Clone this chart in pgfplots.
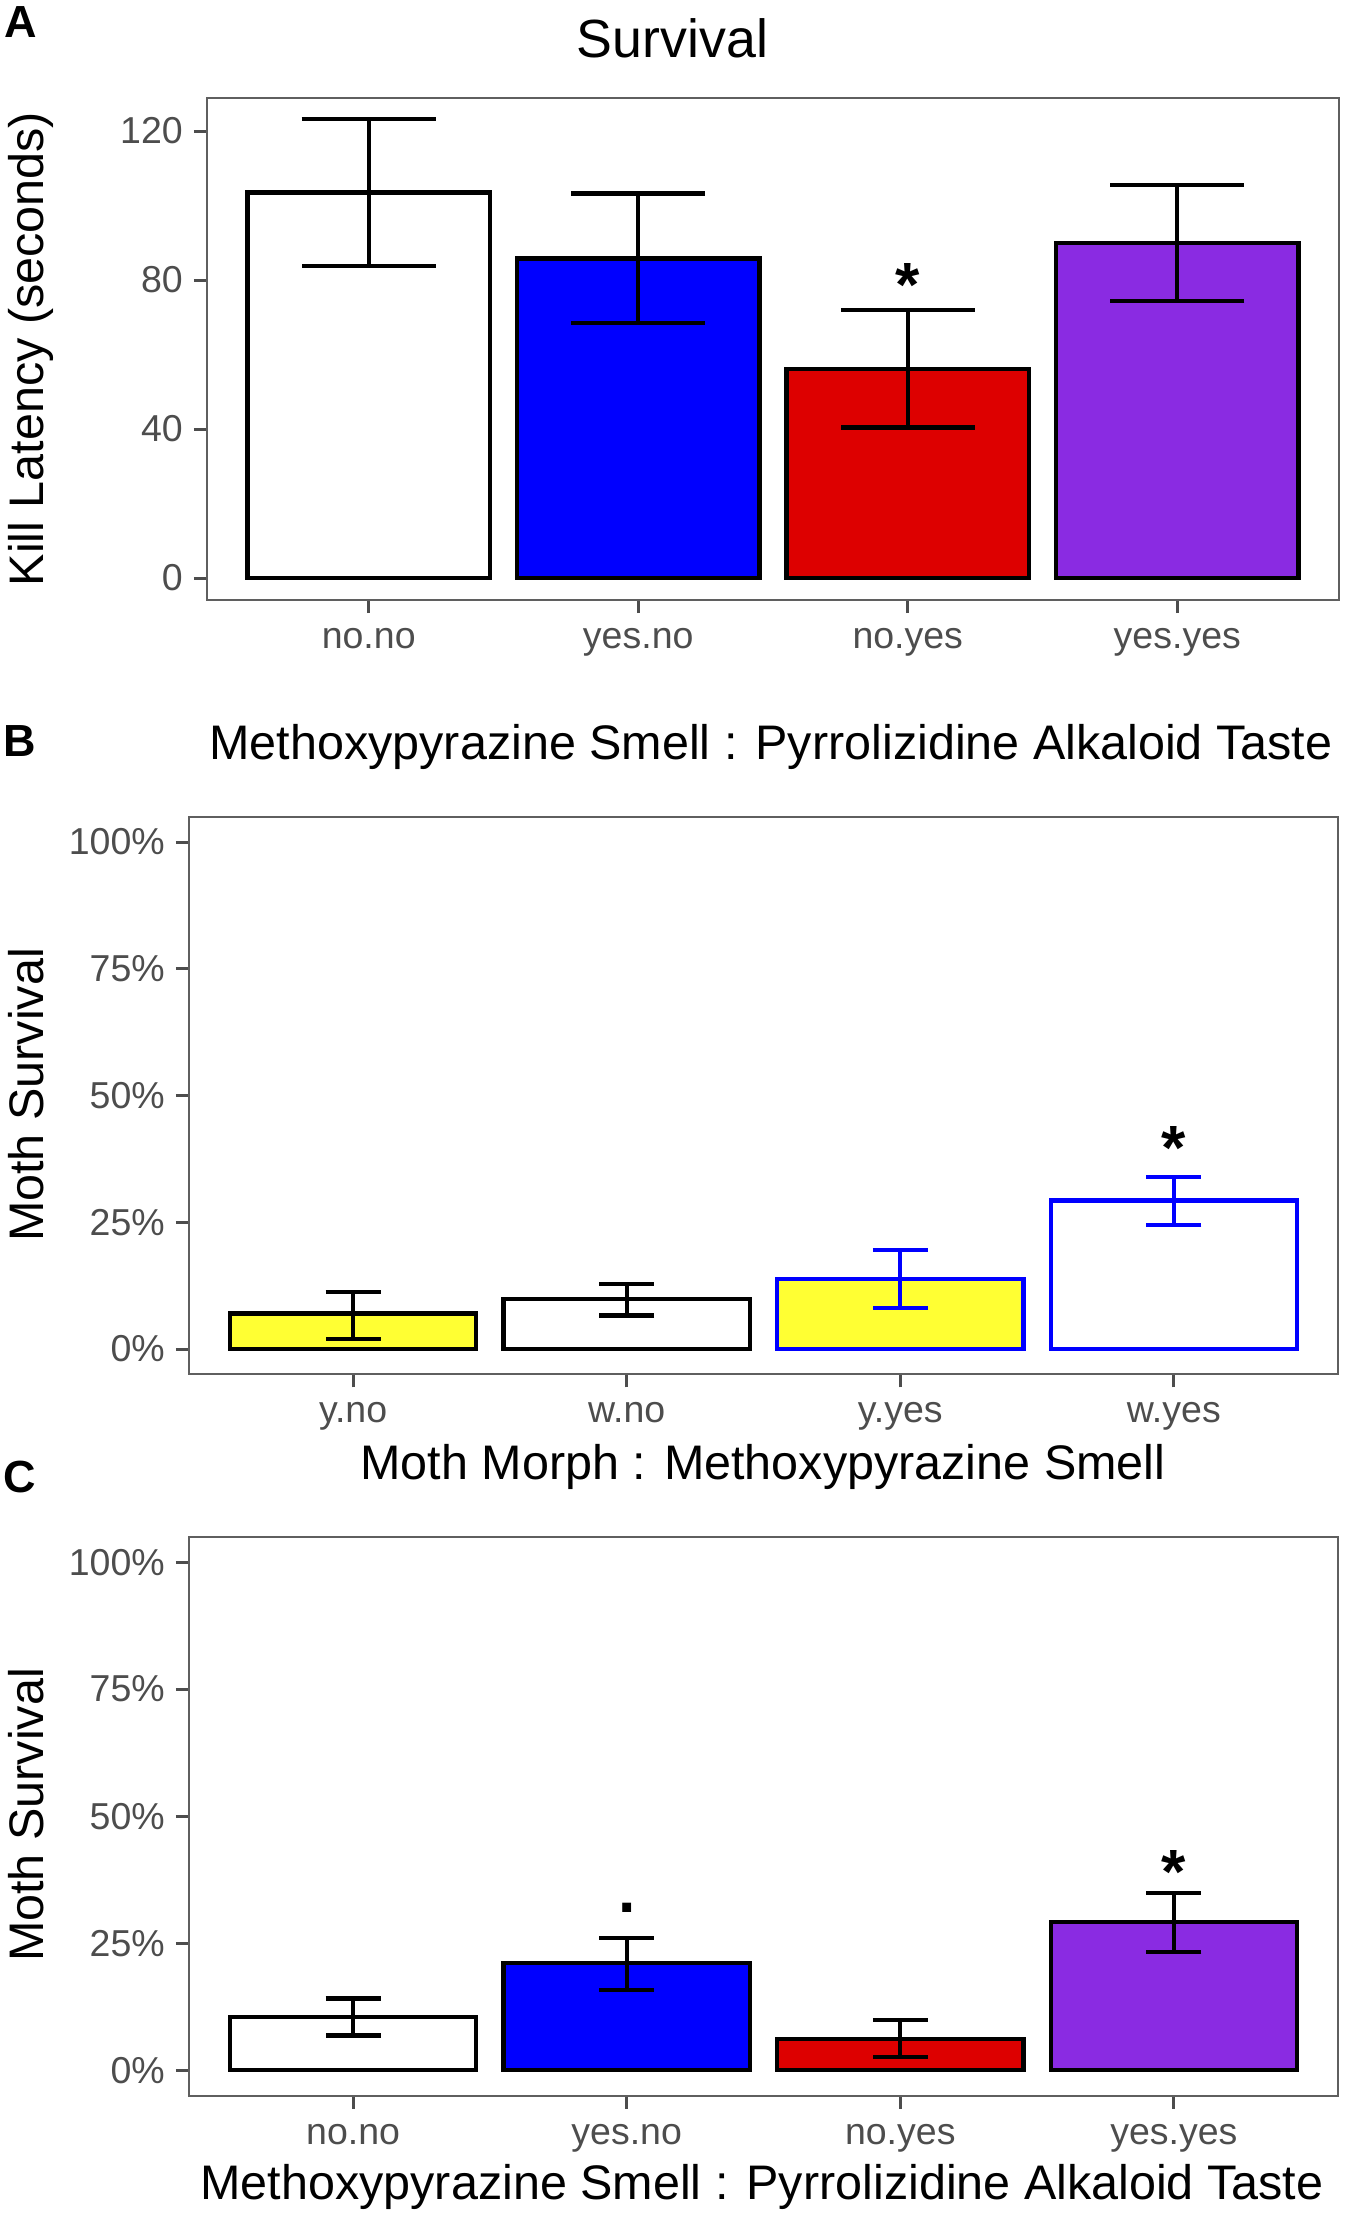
\documentclass[border=0pt]{standalone}
\usepackage{pgfplots}
\pgfplotsset{compat=1.18}
\usepackage{fontspec}
\setmainfont{Liberation Sans}
\definecolor{tickgray}{RGB}{77,77,77}
\definecolor{bordergray}{RGB}{95,95,95}
\definecolor{myred}{RGB}{221,0,0}
\definecolor{mypurple}{RGB}{138,43,226}
\definecolor{myblue}{RGB}{0,0,255}
\definecolor{myyellow}{RGB}{255,255,51}
\newcommand\ticksize{\fontsize{15}{17}\selectfont}
\newcommand\titlesize{\fontsize{19.4}{23}\selectfont}
\newcommand\bigtitlesize{\fontsize{21.5}{25}\selectfont}
\newcommand\panelsize{\fontsize{18}{21}\selectfont\bfseries}
\newcommand\starsize{\fontsize{25}{28}\selectfont\bfseries}
\pgfplotsset{
  panel/.style={
    scale only axis, clip=false,
    axis line style={bordergray, line width=0.8pt},
    xmin=0.4, xmax=4.6, xtick={1,2,3,4},
    xtick pos=left, ytick pos=left,
    tick align=outside, major tick length=5.2pt,
    tick style={color=tickgray, line width=1.2pt},
    tick label style={font=\ticksize, text=tickgray, inner sep=0pt},
    xticklabel style={anchor=base, yshift=-14.2pt},
    yticklabel style={anchor=east, xshift=-4.3pt},
  },
  bar/.style={ybar, bar width=0.9, bar shift=0pt, line width=1.7pt, draw=#1},
  bar/.default=black,
  errA/.style={error bars/.cd, y dir=both, y explicit, error mark=|,
    error bar style={line width=1.7pt, color=#1},
    error mark options={line width=1.7pt, color=#1, mark size=26.8pt}},
  errA/.default=black,
  errB/.style={error bars/.cd, y dir=both, y explicit, error mark=|,
    error bar style={line width=1.7pt, color=#1},
    error mark options={line width=1.7pt, color=#1, mark size=11pt}},
  errB/.default=black,
}
\begin{document}
\begin{tikzpicture}
\path[use as bounding box] (0,0) rectangle (540pt,-887.2pt);

% Panel labels and titles
\node[anchor=base west, font=\panelsize, inner sep=0pt] at (1.6pt,-14.8pt) {A};
\node[anchor=base west, font=\panelsize, inner sep=0pt] at (1.2pt,-302.4pt) {B};
\node[anchor=base west, font=\panelsize, inner sep=0pt] at (1.2pt,-596.8pt) {C};
\node[anchor=base, font=\bigtitlesize, inner sep=0pt] at (269pt,-23pt) {Survival};
\node[anchor=base, font=\titlesize, inner sep=0pt] at (308.4pt,-303.6pt) {Methoxypyrazine Smell : Pyrrolizidine Alkaloid Taste};
\node[anchor=base, font=\titlesize, inner sep=0pt] at (305.2pt,-591.6pt) {Moth Morph : Methoxypyrazine Smell};
\node[anchor=base, font=\titlesize, inner sep=0pt] at (304.8pt,-879.6pt) {Methoxypyrazine Smell : Pyrrolizidine Alkaloid Taste};
\node[anchor=base, rotate=90, font=\titlesize, inner sep=0pt] at (17.6pt,-139.6pt) {Kill Latency (seconds)};
\node[anchor=base, rotate=90, font=\titlesize, inner sep=0pt] at (17.6pt,-438pt) {Moth Survival};
\node[anchor=base, rotate=90, font=\titlesize, inner sep=0pt] at (17.6pt,-726pt) {Moth Survival};

% Panel A
\begin{axis}[panel, at={(82.8pt,-240pt)}, anchor=south west,
  width=452.8pt, height=201pt, ymin=-5.9, ymax=129,
  ytick={0,40,80,120}, yticklabels={0,40,80,120},
  xticklabels={no.no,yes.no,no.yes,yes.yes}]
\addplot[bar, fill=white, errA] coordinates {(1,103.5) +- (0,19.8)};
\addplot[bar, fill=myblue, errA] coordinates {(2,85.8) +- (0,17.4)};
\addplot[bar, fill=myred, errA] coordinates {(3,56.2) +- (0,15.8)};
\addplot[bar, fill=mypurple, errA] coordinates {(4,90.0) +- (0,15.6)};
\node[anchor=base, font=\starsize, inner sep=0pt] at (axis cs:3,73) {*};
\end{axis}

% Panel B
\begin{axis}[panel, at={(75.6pt,-549.76pt)}, anchor=south west,
  width=459.6pt, height=223.1pt, ymin=-5, ymax=105,
  ytick={0,25,50,75,100}, yticklabels={0\%,25\%,50\%,75\%,100\%},
  xticklabels={y.no,w.no,y.yes,w.yes}]
\addplot[bar, fill=myyellow, errB] coordinates {(1,7.0) += (0,4.2) -= (0,5.0)};
\addplot[bar, fill=white, errB] coordinates {(2,9.9) += (0,3.0) -= (0,3.3)};
\addplot[bar=myblue, fill=myyellow, errB=myblue] coordinates {(3,13.8) += (0,5.8) -= (0,5.7)};
\addplot[bar=myblue, fill=white, errB=myblue] coordinates {(4,29.3) += (0,4.7) -= (0,4.9)};
\node[anchor=base, font=\starsize, inner sep=0pt] at (axis cs:4,35.5) {*};
\end{axis}

% Panel C
\begin{axis}[panel, at={(75.6pt,-838.2pt)}, anchor=south west,
  width=459.6pt, height=223.5pt, ymin=-5, ymax=105,
  ytick={0,25,50,75,100}, yticklabels={0\%,25\%,50\%,75\%,100\%},
  xticklabels={no.no,yes.no,no.yes,yes.yes}]
\addplot[bar, fill=white, errB] coordinates {(1,10.5) += (0,3.6) -= (0,3.7)};
\addplot[bar, fill=myblue, errB] coordinates {(2,21.1) += (0,4.9) -= (0,5.3)};
\addplot[bar, fill=myred, errB] coordinates {(3,6.2) += (0,3.6) -= (0,3.6)};
\addplot[bar, fill=mypurple, errB] coordinates {(4,29.2) += (0,5.6) -= (0,5.9)};
\node[anchor=base, font=\starsize, inner sep=0pt] at (axis cs:4,34.7) {*};
\node[anchor=base, font=\starsize, inner sep=0pt] at (axis cs:2,31) {.};
\end{axis}
\end{tikzpicture}
\end{document}
